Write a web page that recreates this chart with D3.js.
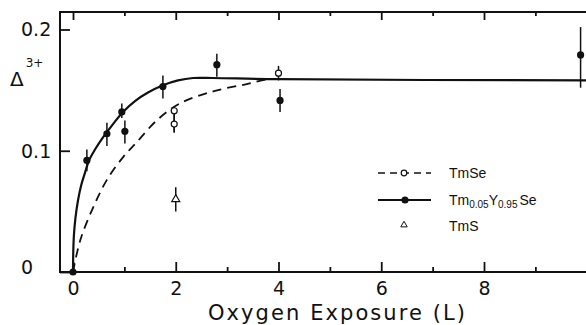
<!DOCTYPE html>
<html>
<head>
<meta charset="utf-8">
<script src="https://cdn.jsdelivr.net/npm/d3@7"></script>
<style>
  html, body { margin: 0; padding: 0; background: #fff; }
  svg { display: block; }
  text { font-family: "DejaVu Sans", "Liberation Sans", sans-serif; fill: #111; }
  .legend text { font-family: "Liberation Sans", "DejaVu Sans", sans-serif; }
</style>
</head>
<body>
<div id="chart"></div>
<script>
// Fitted saturation curves (oxygen exposure in L vs. trivalent fraction)
const tmseCurveX = [0, 0.14, 0.40, 0.66, 0.98, 1.24, 1.63, 2.08, 2.73, 3.38, 3.80, 4.0];
const tmseCurveY = [0, 0.026, 0.054, 0.076, 0.095, 0.107, 0.125, 0.139, 0.149, 0.155, 0.159, 0.159];
const tmyseCurveX = [0, 0.006, 0.019, 0.049, 0.097, 0.156, 0.234, 0.311, 0.428, 0.584, 0.779, 0.973, 1.207, 1.460, 1.752, 2.044, 2.336, 2.725, 4.0, 10];
const tmyseCurveY = [0, 0.018, 0.031, 0.045, 0.059, 0.071, 0.082, 0.092, 0.101, 0.111, 0.122, 0.132, 0.141, 0.148, 0.154, 0.158, 0.160, 0.160, 0.159, 0.158];

// Measured points: x, value, error-bar low, error-bar high
const tmyseX   = [0,    0.27,  0.66,  0.95,  1.01,  1.75,  2.80,  4.03,  9.88];
const tmyseY   = [0,    0.092, 0.114, 0.132, 0.116, 0.153, 0.171, 0.1415, 0.179];
const tmyseLo  = [0,    0.083, 0.104, 0.127, 0.106, 0.143, 0.161, 0.132, 0.152];
const tmyseHi  = [0,    0.101, 0.123, 0.139, 0.125, 0.162, 0.180, 0.151, 0.202];

const tmseX  = [1.97, 1.97, 4.0];
const tmseY  = [0.133, 0.122, 0.164];
const tmseLo = [0.115, 0.115, 0.158];
const tmseHi = [0.136, 0.136, 0.170];

const tmsX  = [2.0];
const tmsY  = [0.060];
const tmsLo = [0.050];
const tmsHi = [0.070];

const xMajorTicks = [0, 2, 4, 6, 8];
const xMinorTicks = [1, 3, 5, 7, 9];
const yTicks = [0, 0.1, 0.2];
const yTickLabels = ["0", "0.1", "0.2"];
const xTitle = "Oxygen Exposure (L)";

const W = 586, H = 325;
const svg = d3.select("#chart").append("svg").attr("width", W).attr("height", H);

const x = d3.scaleLinear().domain([0, 8]).range([73, 484]);
const y = d3.scaleLinear().domain([0, 0.2]).range([272, 29.5]);
const frameLeft = 60, frameTop = 12, frameBottom = 272;
const ink = "#111";

// Frame: left, top and bottom edges (right edge lies beyond the view)
const frame = svg.append("g").attr("stroke", ink).attr("stroke-width", 2).attr("fill", "none");
frame.append("path").attr("d", `M${W},${frameTop}H${frameLeft}V${frameBottom}H${W}`);

function styleAxis(g) {
  g.select(".domain").remove();
  g.selectAll(".tick line").attr("stroke", ink).attr("stroke-width", 1.8);
}

// Bottom axis, ticks pointing inward
svg.append("g").attr("transform", `translate(0,${frameBottom})`)
  .call(d3.axisBottom(x).tickValues(xMajorTicks).tickSize(-10).tickPadding(10).tickFormat(d3.format("d")))
  .call(styleAxis)
  .call(g => g.selectAll("text").attr("font-size", 19).attr("fill", ink).attr("font-family", null));
svg.append("g").attr("transform", `translate(0,${frameBottom})`)
  .call(d3.axisBottom(x).tickValues(xMinorTicks).tickSize(-5).tickFormat(""))
  .call(styleAxis);

// Top axis
svg.append("g").attr("transform", `translate(0,${frameTop})`)
  .call(d3.axisTop(x).tickValues(xMajorTicks).tickSize(-8).tickFormat(""))
  .call(styleAxis);
svg.append("g").attr("transform", `translate(0,${frameTop})`)
  .call(d3.axisTop(x).tickValues(xMinorTicks).tickSize(-4).tickFormat(""))
  .call(styleAxis);

// Left axis
svg.append("g").attr("transform", `translate(${frameLeft},0)`)
  .call(d3.axisLeft(y).tickValues(yTicks).tickSize(-10).tickFormat(""))
  .call(styleAxis);
svg.append("g").selectAll("text").data(yTicks).join("text")
  .attr("x", 21).attr("y", d => y(d) - (d === 0 ? 5 : 0)).attr("dy", "0.36em")
  .attr("font-size", 19)
  .text((d, i) => yTickLabels[i]);

// Axis titles
svg.append("text").attr("x", 208).attr("y", 320)
  .attr("font-size", 21).attr("textLength", 257).attr("lengthAdjust", "spacing")
  .text(xTitle);
const yl = svg.append("text").attr("x", 10).attr("y", 86).attr("font-size", 20);
yl.append("tspan").text("Δ");
yl.append("tspan").attr("font-size", 12).attr("dy", -19).attr("dx", 2).text("3+");

// Curves
const line = d3.line().x(d => x(d[0])).y(d => y(d[1])).curve(d3.curveCatmullRom.alpha(0.5));
svg.append("path").datum(tmseCurveX.map((v, i) => [v, tmseCurveY[i]]))
  .attr("d", line).attr("fill", "none").attr("stroke", ink)
  .attr("stroke-width", 1.8).attr("stroke-dasharray", "9,6");
svg.append("path").datum(tmyseCurveX.map((v, i) => [v, tmyseCurveY[i]]))
  .attr("d", line).attr("fill", "none").attr("stroke", ink).attr("stroke-width", 2.2);

// Error bars
function errorBars(xs, lo, hi) {
  svg.append("g").selectAll("line").data(xs).join("line")
    .attr("x1", d => x(d)).attr("x2", d => x(d))
    .attr("y1", (d, i) => y(lo[i])).attr("y2", (d, i) => y(hi[i]))
    .attr("stroke", ink).attr("stroke-width", 1.5);
}
errorBars(tmyseX, tmyseLo, tmyseHi);
errorBars(tmseX, tmseLo, tmseHi);
errorBars(tmsX, tmsLo, tmsHi);

// Points
svg.append("g").selectAll("circle").data(tmyseX).join("circle")
  .attr("cx", d => x(d)).attr("cy", (d, i) => y(tmyseY[i])).attr("r", 3.6)
  .attr("fill", ink);
svg.append("g").selectAll("circle").data(tmseX).join("circle")
  .attr("cx", d => x(d)).attr("cy", (d, i) => y(tmseY[i])).attr("r", 3)
  .attr("fill", "#fff").attr("stroke", ink).attr("stroke-width", 1.2);
const tri = d3.symbol().type(d3.symbolTriangle).size(28);
svg.append("g").selectAll("path").data(tmsX).join("path")
  .attr("transform", (d, i) => `translate(${x(d)},${y(tmsY[i])})`)
  .attr("d", tri).attr("fill", "#fff").attr("stroke", ink).attr("stroke-width", 1.2);

// Legend
const lg = svg.append("g").attr("class", "legend");
lg.append("line").attr("x1", 378).attr("x2", 431).attr("y1", 173).attr("y2", 173)
  .attr("stroke", ink).attr("stroke-width", 1.6).attr("stroke-dasharray", "7,5");
lg.append("circle").attr("cx", 404).attr("cy", 173).attr("r", 2.8)
  .attr("fill", "#fff").attr("stroke", ink).attr("stroke-width", 1.2);
lg.append("text").attr("x", 449).attr("y", 178).attr("font-size", 14).text("TmSe");

lg.append("line").attr("x1", 378).attr("x2", 431).attr("y1", 200).attr("y2", 200)
  .attr("stroke", ink).attr("stroke-width", 2);
lg.append("circle").attr("cx", 405).attr("cy", 200).attr("r", 3.6).attr("fill", ink);
const t2 = lg.append("text").attr("x", 449).attr("y", 205).attr("font-size", 14);
t2.append("tspan").text("Tm");
t2.append("tspan").attr("font-size", 10).attr("dy", 3).text("0.05");
t2.append("tspan").attr("dy", -3).text("Y");
t2.append("tspan").attr("font-size", 10).attr("dy", 3).text("0.95");
t2.append("tspan").attr("dy", -3).attr("dx", 2).text("Se");

lg.append("path").attr("transform", "translate(404,225)")
  .attr("d", d3.symbol().type(d3.symbolTriangle).size(18))
  .attr("fill", "#fff").attr("stroke", ink).attr("stroke-width", 1);
lg.append("text").attr("x", 449).attr("y", 231).attr("font-size", 14).text("TmS");
</script>
</body>
</html>
